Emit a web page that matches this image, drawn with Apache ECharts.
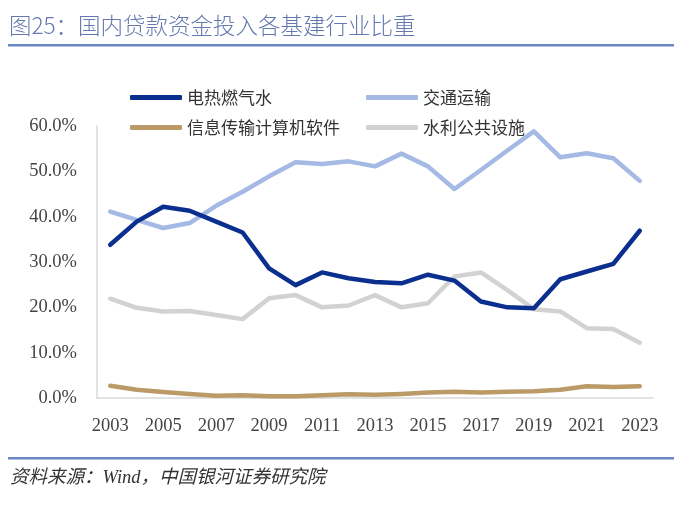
<!DOCTYPE html>
<html><head><meta charset="utf-8">
<script src="https://cdn.jsdelivr.net/npm/echarts@6/dist/echarts.min.js"></script>
<style>html,body{margin:0;padding:0;background:#fff}#c{width:700px;height:512px}</style>
</head><body><div id="c"></div>
<script>
var years = ['2003','2004','2005','2006','2007','2008','2009','2010','2011','2012','2013','2014','2015','2016','2017','2018','2019','2020','2021','2022','2023'];
var power = [33.8,38.9,42.2,41.3,38.9,36.5,28.6,24.9,27.7,26.4,25.6,25.3,27.2,25.9,21.3,20.0,19.8,26.2,27.9,29.6,36.9];
var transport = [41.1,39.3,37.5,38.6,42.4,45.5,48.9,52.0,51.6,52.2,51.1,53.9,51.1,46.1,50.3,54.6,58.8,53.1,54.0,52.9,47.9];
var infoTech = [2.7,1.8,1.3,0.9,0.5,0.6,0.4,0.4,0.6,0.8,0.7,0.9,1.2,1.4,1.2,1.4,1.5,1.8,2.6,2.4,2.6];
var water = [21.9,19.9,19.1,19.2,18.3,17.4,22.0,22.7,20.0,20.4,22.7,20.0,20.9,26.8,27.7,23.8,19.6,19.1,15.4,15.2,12.2];
var names = ['电热燃气水','交通运输','信息传输计算机软件','水利公共设施'];
var colors = ['#0b2f8e','#a4b9e4','#bc9a68','#d2d2d2'];

var chart = echarts.init(document.getElementById('c'));
function mkLegend(name, left, top){
  return {data:[name], left:left, top:top, padding:0, icon:'roundRect', itemWidth:52, itemHeight:5, itemGap:4,
    textStyle:{fontSize:17, color:'#333', fontFamily:'Noto Sans CJK SC'}, selectedMode:false};
}
function mkSeries(i, data){
  return {name:names[i], type:'line', data:data, symbol:'none', smooth:false,
    lineStyle:{width:4.5, color:colors[i], cap:'round', join:'round'}, itemStyle:{color:colors[i]}};
}
chart.setOption({
  animation:false,
  grid:{left:97, right:47, top:126, bottom:114, containLabel:false},
  legend:[mkLegend(names[0],130,89), mkLegend(names[1],366,89), mkLegend(names[2],130,119), mkLegend(names[3],366,119)],
  xAxis:{type:'category', data:years, boundaryGap:true,
    axisLine:{lineStyle:{color:'#d9d9d9', width:1.5}}, axisTick:{show:false},
    axisLabel:{interval:1, color:'#444', fontSize:18.5, fontFamily:'Liberation Serif', margin:19}},
  yAxis:{type:'value', min:0, max:60, interval:10,
    axisLine:{show:true, lineStyle:{color:'#d9d9d9', width:1.5}}, axisTick:{show:false}, splitLine:{show:false},
    axisLabel:{formatter:function(v){return v.toFixed(1)+'%';}, color:'#444', fontSize:18.5, fontFamily:'Liberation Serif', margin:20}},
  series:[mkSeries(1,transport), mkSeries(3,water), mkSeries(2,infoTech), mkSeries(0,power)],
  graphic:[
    {type:'text', left:9, top:14, style:{text:'图25：国内贷款资金投入各基建行业比重', fontSize:22.5, fill:'#6478b0', fontFamily:'Noto Sans CJK SC', fontWeight:300}},
    {type:'rect', shape:{x:8, y:44, width:666, height:2.5}, style:{fill:'#6b86c4'}},
    {type:'rect', shape:{x:8, y:457, width:666, height:2.5}, style:{fill:'#6b86c4'}},
    {type:'text', left:10, top:469, style:{text:'资料来源：Wind，中国银河证券研究院', fontSize:18.5, fill:'#333', fontStyle:'italic', fontFamily:'Liberation Serif, Noto Sans CJK SC'}}
  ]
});
</script></body></html>
